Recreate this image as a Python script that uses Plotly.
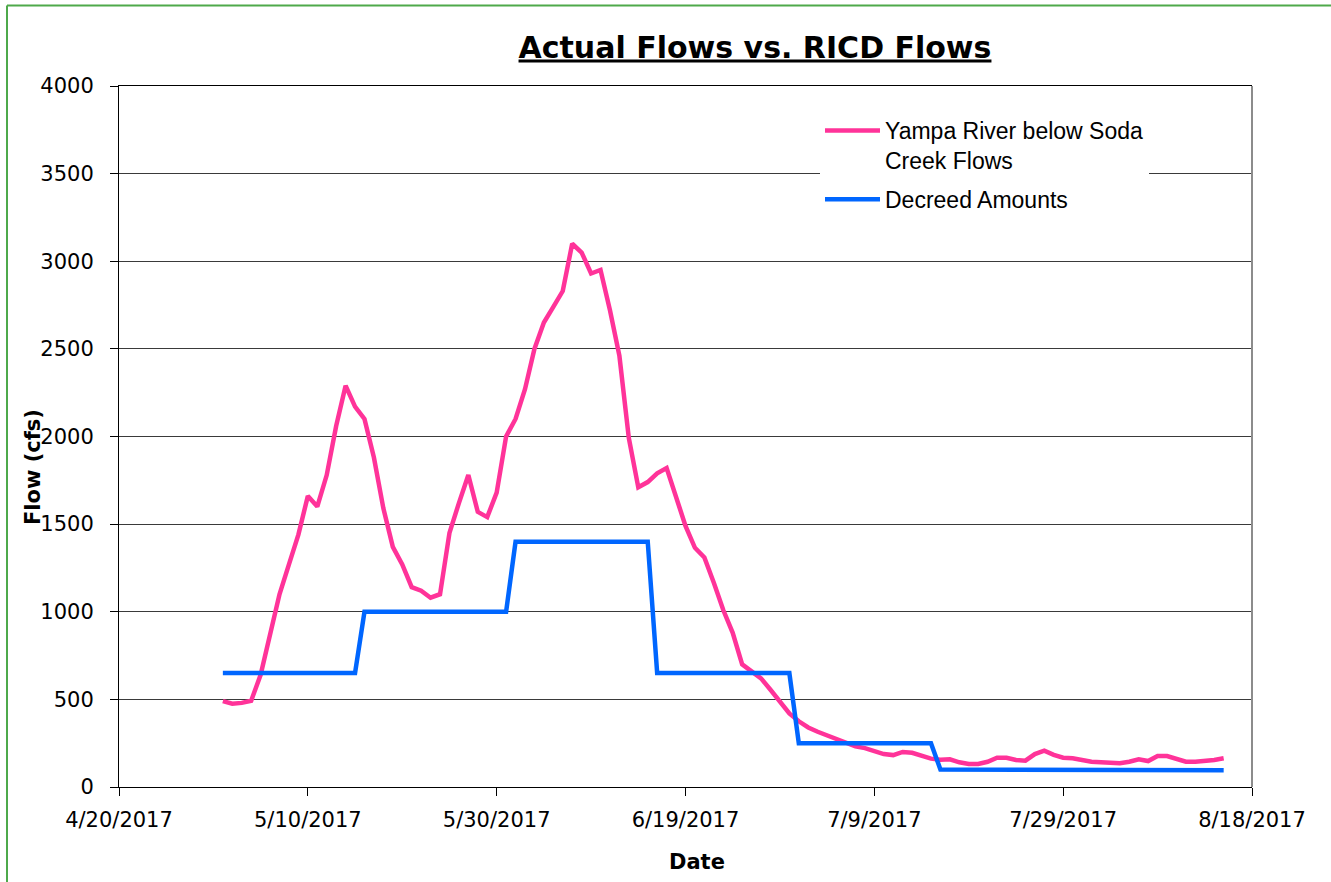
import pandas as pd
import plotly.graph_objects as go

# Daily mean flow, Yampa River below Soda Creek (cfs), 5/1/2017 - 8/15/2017
flow_may = [490, 475, 480, 492, 640, 870, 1100, 1270, 1440, 1660,
            1600, 1780, 2060, 2290, 2170, 2100, 1880, 1590, 1370, 1270,
            1140, 1120, 1080, 1100, 1450, 1620, 1780, 1570, 1540, 1680,
            2000]
flow_jun = [2100, 2270, 2500, 2650, 2740, 2830, 3100, 3050, 2930, 2950,
            2720, 2460, 1990, 1710, 1740, 1790, 1820, 1650, 1490, 1365,
            1310, 1165, 1010, 880, 700, 660, 620, 555, 490, 420]
flow_jul = [375, 340, 315, 295, 272, 250, 232, 222, 205, 188,
            182, 200, 195, 177, 162, 155, 158, 141, 131, 131,
            144, 167, 167, 154, 150, 188, 207, 183, 167, 164,
            154]
flow_aug = [144, 141, 135, 135, 144, 158, 148, 177, 177, 158,
            144, 144, 148, 154, 164]
flows = flow_may + flow_jun + flow_jul + flow_aug

# Decreed RICD amounts (cfs) and the number of days each one applies
decree_amounts = [650, 1000, 1400, 650, 250, 100, 95]
decree_days = [15, 16, 15, 15, 15, 16, 15]
decreed = [a for a, n in zip(decree_amounts, decree_days) for _ in range(n)]

dates = pd.date_range("2017-05-01", periods=len(flows), freq="D")

x_tick_vals = ["2017-04-20", "2017-05-10", "2017-05-30", "2017-06-19",
               "2017-07-09", "2017-07-29", "2017-08-18"]
x_tick_text = ["4/20/2017", "5/10/2017", "5/30/2017", "6/19/2017",
               "7/9/2017", "7/29/2017", "8/18/2017"]
y_tick_vals = [0, 500, 1000, 1500, 2000, 2500, 3000, 3500, 4000]

PINK = "#FF3399"
BLUE = "#0066FF"
TICK_FONT = dict(family="DejaVu Sans", size=21, color="#000000")

fig = go.Figure()
fig.add_trace(go.Scatter(
    x=dates, y=flows, mode="lines",
    name="Yampa River below Soda<br>Creek Flows", legendgroup="flow",
    line=dict(color=PINK, width=4.5),
))
fig.add_trace(go.Scatter(
    x=dates, y=decreed, mode="lines",
    name="Decreed Amounts", legendgroup="decree",
    line=dict(color=BLUE, width=4.5),
))

fig.update_xaxes(
    type="date", range=["2017-04-20", "2017-08-18"],
    tickvals=x_tick_vals, ticktext=x_tick_text,
    ticks="outside", ticklen=8, tickcolor="#000000", tickwidth=1,
    ticklabelstandoff=6,
    showline=True, linecolor="#000000", linewidth=1, mirror=True,
    showgrid=False, zeroline=False, tickfont=TICK_FONT,
)
fig.update_yaxes(
    range=[0, 4000], tickvals=y_tick_vals,
    ticks="outside", ticklen=8, tickcolor="#000000", tickwidth=1,
    ticklabelstandoff=12,
    showline=True, linecolor="#000000", linewidth=1,
    showgrid=True, gridcolor="#3a3a3a", gridwidth=1,
    zeroline=False, tickfont=TICK_FONT,
)

# paper-coordinate helpers for the fixed page geometry
PLOT_L, PLOT_R, PLOT_T, PLOT_B = 119, 1252, 86, 787


def px_x(px):
    return (px - PLOT_L) / (PLOT_R - PLOT_L)


def px_y(py):
    return (PLOT_B - py) / (PLOT_B - PLOT_T)


shapes = [
    # right plot-area edge in grey
    dict(type="line", xref="paper", yref="paper", x0=1, x1=1, y0=0, y1=1,
         line=dict(color="#8c8c8c", width=2)),
    # green frame along the top and left of the page
    dict(type="line", xref="paper", yref="paper",
         x0=px_x(7), x1=px_x(1340), y0=px_y(5.5), y1=px_y(5.5),
         line=dict(color="#4EA94B", width=2)),
    dict(type="line", xref="paper", yref="paper",
         x0=px_x(7), x1=px_x(7), y0=px_y(5.5), y1=px_y(890),
         line=dict(color="#4EA94B", width=2)),
]

annotations = [
    dict(text="<b>Flow (cfs)</b>", xref="paper", yref="paper",
         x=px_x(33), y=px_y(467), textangle=-90, showarrow=False,
         xanchor="center", yanchor="middle",
         font=dict(family="DejaVu Sans", size=21, color="#000000")),
    dict(text="<b>Date</b>", xref="paper", yref="paper",
         x=px_x(697), y=px_y(862), showarrow=False,
         xanchor="center", yanchor="middle",
         font=dict(family="DejaVu Sans", size=21, color="#000000")),
]

fig.update_layout(
    width=1331, height=882,
    margin=dict(l=PLOT_L, r=1331 - PLOT_R, t=PLOT_T, b=882 - PLOT_B),
    paper_bgcolor="#FFFFFF", plot_bgcolor="#FFFFFF",
    title=dict(
        text="<b><u>Actual Flows vs. RICD Flows</u></b>",
        xref="container", yref="container",
        x=755 / 1331, y=1 - 47 / 882, xanchor="center", yanchor="middle",
        font=dict(family="DejaVu Sans", size=30, color="#000000"),
    ),
    legend=dict(
        x=px_x(820), y=px_y(109), xanchor="left", yanchor="top",
        bgcolor="#FFFFFF", borderwidth=0, valign="top",
        itemwidth=55, tracegroupgap=6,
        font=dict(family="Liberation Sans", size=23, color="#000000"),
    ),
    shapes=shapes,
    annotations=annotations,
    showlegend=True,
)

fig.write_html("out.html")
